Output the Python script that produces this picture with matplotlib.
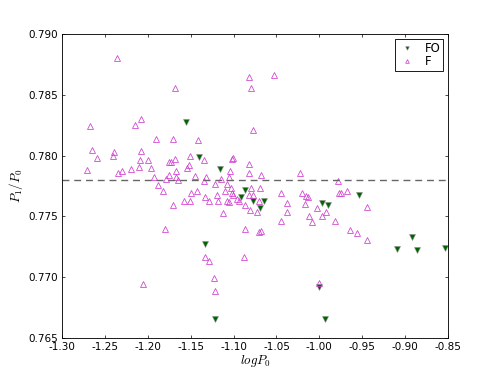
import numpy as np
import matplotlib
matplotlib.use("Agg")
import matplotlib.pyplot as plt

# ------------------------- DADOS ------------------------- #
logp_fo = [-1.155, -1.140, -1.116, -1.087, -1.091, -1.077, -1.065, -1.069,
           -0.954, -0.997, -0.990, -0.892, -0.909, -0.886, -0.853, -1.000,
           -0.993, -1.133, -1.122]
ratio_fo = [0.7828, 0.7799, 0.7789, 0.7772, 0.7766, 0.7763, 0.7763, 0.7757,
            0.7768, 0.7761, 0.7759, 0.7733, 0.7723, 0.7722, 0.7724, 0.7692,
            0.7666, 0.7727, 0.7666]

logp_f = [-1.236, -1.168, -1.082, -1.080, -1.053, -1.208, -1.215, -1.267,
          -1.077, -1.190, -1.171, -1.141, -1.265, -1.239, -1.241, -1.259,
          -1.208, -1.209, -1.210, -1.200, -1.196, -1.220, -1.235, -1.230,
          -1.271, -1.175, -1.173, -1.168, -1.167, -1.154, -1.152, -1.151,
          -1.134, -1.102, -1.101, -1.082, -1.104, -1.082, -1.068, -1.023,
          -1.193, -1.179, -1.175, -1.167, -1.165, -1.145, -1.132, -1.134,
          -1.115, -1.105, -1.122, -1.108, -1.188, -1.182, -0.978, -1.080,
          -1.069, -1.045, -1.110, -1.103, -1.102, -1.101, -1.143, -1.150,
          -1.119, -1.118, -1.077, -1.082, -1.070, -1.108, -1.105, -1.096,
          -1.094, -1.158, -1.151, -1.133, -1.129, -1.087, -1.081, -1.073,
          -1.038, -1.038, -1.020, -1.016, -1.013, -1.017, -1.012, -1.112,
          -1.045, -1.087, -1.068, -1.171, -1.180, -1.206, -0.977, -0.975,
          -0.968, -1.003, -0.992, -0.997, -0.944, -1.009, -0.982, -0.964,
          -0.956, -0.944, -1.133, -1.129, -1.088, -1.123, -1.122, -1.000,
          -1.070]
ratio_f = [0.7880, 0.7856, 0.7865, 0.7856, 0.7866, 0.7830, 0.7825, 0.7824,
           0.7821, 0.7814, 0.7814, 0.7813, 0.7805, 0.7803, 0.7800, 0.7798,
           0.7804, 0.7796, 0.7791, 0.7796, 0.7790, 0.7789, 0.7786, 0.7787,
           0.7788, 0.7795, 0.7795, 0.7797, 0.7787, 0.7790, 0.7792, 0.7800,
           0.7796, 0.7797, 0.7798, 0.7793, 0.7787, 0.7786, 0.7784, 0.7786,
           0.7782, 0.7781, 0.7784, 0.7782, 0.7780, 0.7783, 0.7782, 0.7779,
           0.7781, 0.7782, 0.7777, 0.7777, 0.7776, 0.7771, 0.7779, 0.7773,
           0.7773, 0.7769, 0.7771, 0.7773, 0.7769, 0.7768, 0.7771, 0.7769,
           0.7768, 0.7763, 0.7768, 0.7768, 0.7763, 0.7763, 0.7762, 0.7764,
           0.7763, 0.7763, 0.7763, 0.7766, 0.7763, 0.7759, 0.7755, 0.7754,
           0.7761, 0.7754, 0.7769, 0.7767, 0.7766, 0.7760, 0.7750, 0.7753,
           0.7746, 0.7740, 0.7738, 0.7759, 0.7740, 0.7694, 0.7769, 0.7769,
           0.7771, 0.7757, 0.7754, 0.7750, 0.7758, 0.7745, 0.7746, 0.7739,
           0.7736, 0.7731, 0.7717, 0.7713, 0.7717, 0.7699, 0.7689, 0.7695,
           0.7737]

ratio_ref = 0.778
xticks = [-1.30, -1.25, -1.20, -1.15, -1.10, -1.05, -1.00, -0.95, -0.90, -0.85]
yticks = [0.765, 0.770, 0.775, 0.780, 0.785, 0.790]

# ------------------------- ESTILO (matplotlib antigo) ---------------------- #
plt.rcParams.update({
    "font.family": "DejaVu Sans",
    "font.size": 12,
    "axes.unicode_minus": False,
    "xtick.direction": "in",
    "ytick.direction": "in",
    "xtick.top": True,
    "ytick.right": True,
    "xtick.major.size": 4,
    "ytick.major.size": 4,
    "xtick.major.pad": 5,
    "ytick.major.pad": 5,
    "mathtext.fontset": "cm",
})

dpi = 62.25
fig = plt.figure(figsize=(498 / dpi, 374 / dpi), dpi=dpi)
ax = fig.add_axes([62 / 498, 1 - 338 / 374, 386 / 498, 304 / 374])

ax.plot(logp_fo, ratio_fo, "v", color="darkgreen", mec="0.55", mew=0.6,
        ms=7, ls="none", label="FO")
ax.plot(logp_f, ratio_f, "^", mfc="none", mec="#d040d0", mew=0.9,
        ms=7, ls="none", label="F")
ax.axhline(ratio_ref, color="0.4", ls="--", lw=1.6, dashes=(5, 3.5))

ax.set_xlim(-1.30, -0.85)
ax.set_ylim(0.765, 0.790)
ax.set_xticks(xticks)
ax.set_yticks(yticks)
ax.set_xticklabels([f"{v:.2f}" for v in xticks])
ax.set_yticklabels([f"{v:.3f}" for v in yticks])
ax.set_xlabel(r"$logP_0$", fontsize=15, labelpad=1)
ax.set_ylabel(r"$P_1/P_0$", fontsize=15, labelpad=3)
for s in ax.spines.values():
    s.set_linewidth(1.0)

leg = ax.legend(loc="upper right", numpoints=1, fancybox=False,
                fontsize=13.5, markerscale=0.6, handlelength=1.6,
                handletextpad=0.7, borderpad=0.2, labelspacing=0.05,
                borderaxespad=0.45, framealpha=1)
leg.get_frame().set_edgecolor("black")
leg.get_frame().set_linewidth(1.0)

fig.savefig("out.png", dpi=dpi, facecolor="white")
